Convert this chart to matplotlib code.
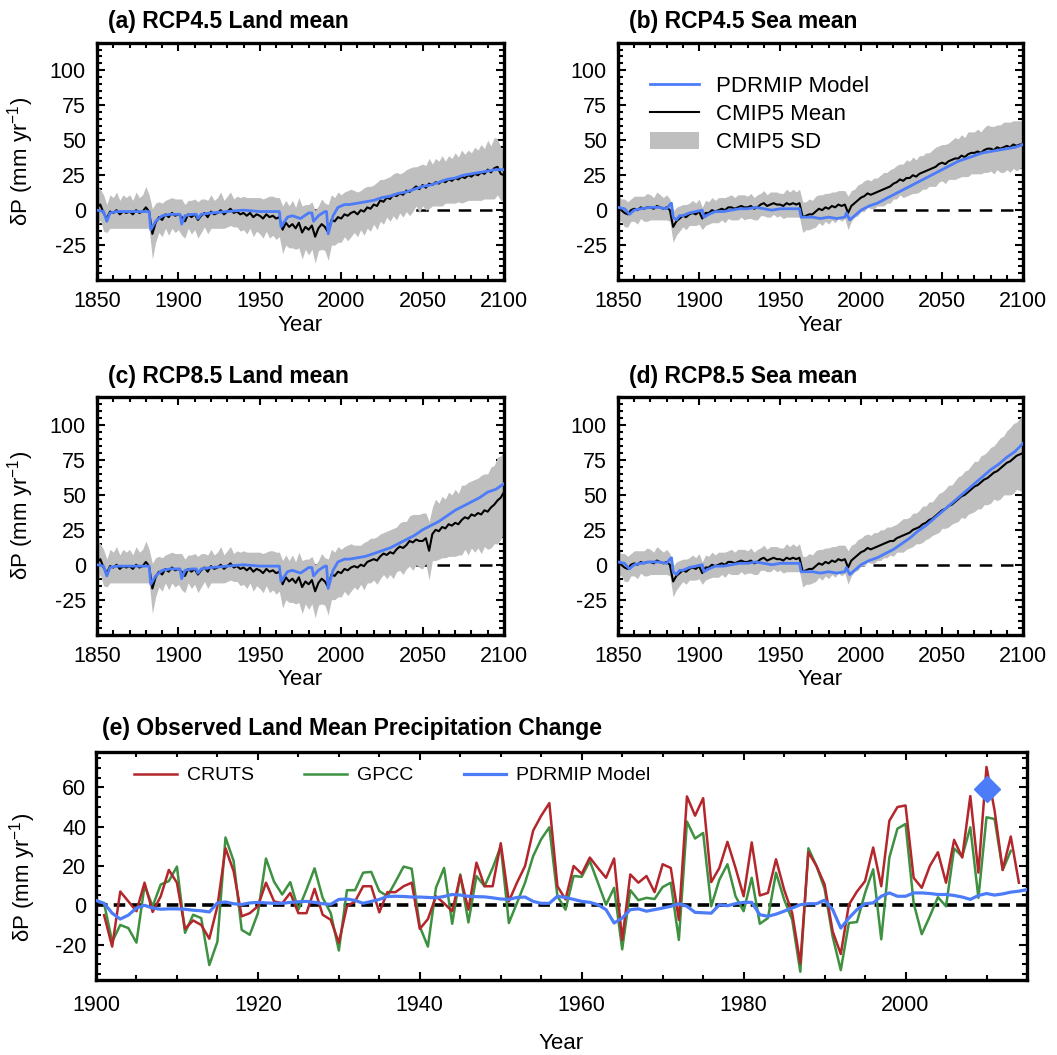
import numpy as np
import matplotlib.pyplot as plt
from matplotlib.ticker import MultipleLocator, FixedLocator

plt.rcParams['font.family'] = ['Liberation Sans', 'DejaVu Sans']
plt.rcParams['axes.unicode_minus'] = False

BAND = '#bfbfbf'
MODEL_BLUE = '#4d7cf9'
CRUTS_RED = '#b3262b'
GPCC_GREEN = '#3d9140'

# CMIP5 multi-model mean and spread, two-year steps
HIST_YEARS = np.arange(1850, 2005, 2)
FUT_YEARS = np.arange(2006, 2101, 2)

LAND_HIST_MEAN = [
    2, 4, -2, -6, -1,
    -2, 0, -3, -1, -2,
    -1, -3, 0, -2, -1,
    2, -1, -17, -9, -5,
    -7, -3, -5, -2, -4,
    -3, -5, -8, -3, -5,
    -3, -7, -4, -2, -5,
    -1, -3, -2, 0, -3,
    -1, 1, -2, -1, -3,
    -2, -4, -2, -5, -3,
    -4, -6, -3, -5, -4,
    -6, -5, -14, -9, -12,
    -10, -13, -9, -16, -12,
    -14, -11, -19, -13, -10,
    -12, -16, -7, -8, -5,
    -6, -3, -4,
]
LAND_HIST_SD = [
    15, 11, 13, 10, 12,
    11, 13, 10, 12, 11,
    12, 10, 13, 11, 12,
    15, 12, 18, 14, 11,
    12, 10, 13, 11, 12,
    11, 13, 12, 10, 12,
    11, 13, 12, 10, 12,
    12, 10, 11, 13, 10,
    11, 12, 10, 11, 12,
    12, 13, 11, 14, 12,
    13, 14, 12, 15, 14,
    15, 14, 17, 16, 15,
    17, 15, 18, 19, 16,
    18, 17, 19, 16, 18,
    17, 20, 18, 17, 18,
    17, 16, 18,
]
SEA_HIST_MEAN = [
    2, 0, -2, -3, 0,
    1, 0, 2, 1, 2,
    2, 1, 3, 2, 1,
    2, 0, -12, -8, -6,
    -4, -5, -3, -2, -3,
    -1, -6, -2, -2, 0,
    -1, 0, 1, 0, 2,
    2, 1, 2, 3, 2,
    2, 3, 1, 2, 4,
    5, 3, 4, 5, 4,
    4, 3, 5, 4, 5,
    4, 5, -5, -4, -3,
    -3, -1, 1, 0, 2,
    1, 3, 2, 4, 3,
    4, -2, 3, 5, 7,
    9, 10, 12,
]
SEA_HIST_SD = [
    9, 8, 10, 9, 8,
    9, 10, 8, 9, 10,
    9, 8, 10, 9, 8,
    9, 8, 11, 10, 9,
    8, 9, 8, 9, 8,
    9, 8, 9, 8, 9,
    8, 9, 8, 9, 8,
    9, 8, 9, 8, 9,
    8, 9, 8, 9, 8,
    9, 8, 9, 8, 9,
    8, 9, 10, 9, 10,
    9, 10, 11, 10, 11,
    10, 11, 10, 11, 10,
    11, 10, 11, 10, 11,
    10, 12, 11, 10, 11,
    10, 11, 10,
]

LAND45_MEAN = [
    -2, -1,
    -3, 0, -1, 2, 1,
    4, 3, 7, 6, 9,
    8, 11, 10, 12, 11,
    14, 13, 15, 17, 15,
    18, 16, 19, 18, 20,
    19, 21, 20, 22, 21,
    23, 22, 24, 23, 25,
    24, 26, 25, 27, 26,
    29, 27, 30, 31, 26,
    25,
]
LAND45_SD = [
    17, 15,
    16, 14, 17, 15, 16,
    14, 17, 15, 16, 14,
    16, 15, 17, 14, 16,
    15, 17, 16, 14, 17,
    15, 16, 18, 15, 17,
    16, 18, 15, 17, 16,
    18, 16, 19, 17, 18,
    17, 19, 18, 20, 18,
    21, 19, 22, 20, 19,
    18,
]
LAND85_MEAN = [
    -2, -1,
    -2, 0, -1, 2, 3,
    4, 3, 6, 8, 7,
    9, 8, 11, 13, 12,
    14, 17, 16, 18, 17,
    17, 19, 10, 22, 25,
    24, 27, 26, 29, 28,
    30, 29, 32, 34, 33,
    36, 35, 37, 36, 39,
    38, 41, 43, 46, 48,
    52,
]
LAND85_SD = [
    17, 15,
    16, 14, 17, 15, 16,
    15, 17, 16, 15, 17,
    16, 18, 16, 17, 19,
    17, 18, 20, 18, 19,
    20, 18, 21, 19, 22,
    20, 22, 21, 23, 22,
    24, 22, 25, 23, 26,
    24, 26, 25, 28, 26,
    27, 29, 28, 31, 30,
    29,
]
SEA45_MEAN = [
    11, 12,
    13, 14, 15, 16, 17,
    19, 20, 22, 21, 23,
    23, 25, 24, 26, 27,
    28, 29, 30, 31, 33,
    34, 33, 35, 36, 37,
    37, 39, 38, 40, 41,
    41, 42, 41, 43, 44,
    44, 43, 45, 44, 45,
    46, 45, 47, 46, 47,
    47,
]
SEA45_SD = [
    10, 11,
    10, 11, 12, 11, 12,
    11, 12, 11, 12, 13,
    12, 13, 12, 13, 12,
    13, 12, 13, 14, 13,
    13, 14, 13, 14, 15,
    14, 15, 14, 16, 15,
    15, 16, 15, 16, 17,
    16, 17, 16, 17, 18,
    17, 18, 17, 18, 17,
    17,
]
SEA85_MEAN = [
    11, 12,
    13, 14, 15, 16, 17,
    17, 19, 20, 21, 22,
    23, 25, 26, 27, 29,
    30, 32, 33, 35, 37,
    39, 40, 42, 43, 45,
    47, 49, 50, 52, 54,
    56, 57, 59, 61, 62,
    64, 66, 67, 69, 71,
    73, 74, 76, 78, 79,
    80,
]
SEA85_SD = [
    10, 11,
    10, 11, 10, 11, 10,
    11, 10, 11, 12, 11,
    11, 12, 11, 12, 13,
    12, 13, 12, 13, 14,
    13, 14, 15, 14, 15,
    16, 15, 17, 16, 17,
    18, 17, 19, 18, 19,
    20, 19, 21, 22, 21,
    23, 24, 25, 24, 26,
    28,
]

# PDRMIP model response (breakpoints around the volcanic years)
LAND_MODEL_HIST_YEARS = [1850, 1854, 1856, 1858, 1862, 1870, 1880, 1882, 1883, 1886,
                         1890, 1895, 1901, 1902, 1904, 1908, 1911, 1912, 1914, 1920,
                         1930, 1940, 1950, 1958, 1962, 1963, 1967, 1970, 1975, 1980,
                         1982, 1983, 1986, 1990, 1991, 1992, 1995, 1998, 2002, 2005]
LAND_MODEL_HIST = [0, -1, -8, -2, -1, -1, -1, -1, -14, -8,
                   -4, -3, -3, -10, -4, -3, -3, -6, -3, -2,
                   -1, 0, -1, -1, -1, -12, -5, -4, -6, -2,
                   -2, -8, -4, -1, -1, -17, -4, 2, 4, 4]
SEA_MODEL_HIST_YEARS = [1850, 1854, 1857, 1860, 1864, 1870, 1875, 1880, 1882, 1883,
                        1884, 1886, 1888, 1890, 1894, 1898, 1902, 1903, 1906, 1910,
                        1915, 1920, 1925, 1930, 1935, 1940, 1945, 1950, 1955, 1962,
                        1963, 1966, 1970, 1975, 1980, 1985, 1990, 1991, 1993, 1997,
                        2000, 2005]
SEA_MODEL_HIST = [2, 1, -3, 0, 1, 2, 2, 1, 4, 5,
                  -5, -7, -4, -4, -2, -1, 0, -5, -3, -1,
                  -1, 0, 1, 1, 2, 1, 0, 1, 1, 1,
                  -5, -5, -5, -6, -5, -6, -5, -2, -7, -3,
                  0, 3]
MODEL_FUT_YEARS = np.arange(2010, 2101, 5)
LAND_MODEL_45 = [5, 6, 7, 9, 10, 12, 13, 15, 17, 18, 20, 22, 23, 25, 26, 27, 28, 29, 29]
LAND_MODEL_85 = [5, 6, 8, 10, 12, 15, 18, 21, 25, 28, 31, 35, 39, 42, 45, 48, 52, 54, 58]
SEA_MODEL_45 = [5, 8, 11, 14, 17, 20, 23, 26, 29, 32, 35, 37, 39, 41, 42, 43, 44, 45, 47]
SEA_MODEL_85 = [5, 8, 11, 15, 19, 24, 28, 33, 38, 43, 48, 53, 58, 63, 68, 72, 77, 81, 87]

# observed land precipitation anomalies
CRUTS = [
    -5, -21, 7, 2, -3, 11.5, -3.4, 4.6, 18, 11.5,          # 1901-1910
    -12, -7.7, -10, -17, -0.5, 29, 17.4, -5.6, -4, -0.5,    # 1911-1920
    11.5, 2, 1, 6.3, -4, -4, 8.4, -4.8, -7.4, -19,          # 1921-1930
    -0.5, 2, 9.7, 9.7, -3.6, 6.7, 6.7, 9.7, 11.5, -12,      # 1931-1940
    -7, 4.6, 1, -3, 15, -2.2, 21.7, 9.7, 9.7, 31.6,         # 1941-1950
    2, 11.5, 20, 38, 45.6, 52, 9.7, 3, 20, 16,              # 1951-1960
    24.3, 19, 14, 23.8, -17.6, 15.7, 11.5, 14.9, 6.7, 20.9, # 1961-1970
    19, -7.4, 55.4, 45.6, 54.5, 11.8, 19, 32.3, 19, 4.6,    # 1971-1980
    32, 5, 6.3, 23.4, 8, -4, -29.6, 27, 20, 10.6,           # 1981-1990
    -13.3, -24.8, 0.3, 7, 12.3, 29.4, 9.7, 43, 50, 50.8,    # 1991-2000
    14, 8.9, 20, 27, 11.5, 33.3, 24.3, 55.6, 16.6, 70.4,    # 2001-2010
    48.2, 18, 35, 11.5,                                     # 2011-2014
]
GPCC = [
    1, -18.5, -10, -11.6, -19, 10, -0.5, 10.6, 12.3, 19.7,  # 1901-1910
    -14, -4.8, -6.5, -30.4, -18.5, 34.5, 22.6, -12.5, -15, -4,
    23.8, 12, 5.5, 11.8, -2.2, 8, 18.8, 3.8, -4, -23,
    7.7, 7.7, 16.6, 17, 7.2, 4.6, 12, 19.7, 18.6, -10.8,
    -21, 9, 19, -9.4, 15.7, -8.7, 14.9, 9.7, 19, 30,
    -9, 1.2, 11.5, 25, 33.7, 39.7, 4.6, -2.2, 14.9, 14.5,
    22.6, 11.5, 0.3, 8.9, -22.4, 7.7, 2.6, 3.8, 3.2, 9.3,
    11.5, -17.6, 42.6, 34, 36.8, -0.5, 13, 20.9, 4.6, -3,
    14, -9.4, -6.5, 16.6, 3, -7.4, -33.8, 29, 20, 8.4,
    -16, -33, -9, -8.5, 6.3, 18.3, -17.3, 24.3, 39, 41.4,
    1.2, -14.7, -5.6, 4.1, -0.5, 28.9, 24.8, 39.7, 3.8, 44.8,
    43.9, 18, 27.7,                                         # 2011-2013
]
PDRMIP_OBS = [
    2.5, 1, -4, -7, -5, -1.4, 0, -1.4, -2, -1.8,            # 1900-1909
    -1.8, -2, -2.5, -2.8, -3.4, 1.2, 1.7, 0.8, 0.4, 1.2,
    1.5, 1.2, 1, 1, 1.5, 1.8, 2, 1.5, 0.8, 0.5,
    3, 3.2, 2.5, 1, 2, 3, 4.5, 4.6, 4.5, 4.2,
    4.2, 4, 3.8, 4.5, 5.5, 5.2, 4.6, 4.4, 4.3, 3.8,
    3.2, 3, 4, 4.2, 2, 1, 1, 4.6, 4, 3,
    2, 1.5, 0.3, -2.2, -9, -6.5, -2.2, -1.8, -3, -2.2,
    -1.4, -0.5, 0.8, -0.5, -3.6, -3.8, -4, 0.3, -0.2, 0.8,
    1.5, 1.5, -4.8, -5.6, -4.5, -3, -1.4, 0.3, 0.8, 0.8,
    2.6, -2.2, -11.6, -6.5, -2.2, 0.8, 1.2, 4.6, 6.3, 4.6,
    4.6, 6.3, 6.3, 6, 5.5, 5.5, 5, 4.2, 3, 5,
    6, 5.2, 5.8, 6.7, 7.2, 8,                               # 2010-2015
]
MODEL_POINT_YEAR = 2010
MODEL_POINT_VALUE = 59

YLABEL = r'δP (mm yr$^{\mathregular{-1}}$)'


def style_frame(ax):
    ax.tick_params(which='both', direction='in', top=True, right=True,
                   width=1.5, labelsize=15.5)
    ax.tick_params(which='major', length=6)
    ax.tick_params(which='minor', length=3.5)
    for spine in ax.spines.values():
        spine.set_linewidth(2.4)


def projection(fig, rect, title, hist_mean, hist_sd, fut_mean, fut_sd,
               model_hist_x, model_hist, model_fut, ylabel=True, legend=False):
    ax = fig.add_axes(rect)
    years = np.concatenate([HIST_YEARS, FUT_YEARS])
    mean = np.array(hist_mean + fut_mean, dtype=float)
    sd = np.array(hist_sd + fut_sd, dtype=float)
    mx = np.concatenate([model_hist_x, MODEL_FUT_YEARS])
    my = np.array(model_hist + model_fut, dtype=float)

    ax.axhline(0, color='black', lw=1.8, dashes=(5, 3.5), zorder=1)
    sd_band = ax.fill_between(years, mean - sd, mean + sd, color=BAND, lw=0, zorder=2)
    mean_line, = ax.plot(years, mean, color='black', lw=1.5, zorder=3)
    model_line, = ax.plot(mx, my, color=MODEL_BLUE, lw=2.0, zorder=4)

    ax.set_xlim(1850, 2100)
    ax.set_ylim(-50, 120)
    ax.xaxis.set_major_locator(MultipleLocator(50))
    ax.xaxis.set_minor_locator(MultipleLocator(10))
    ax.yaxis.set_major_locator(FixedLocator([-25, 0, 25, 50, 75, 100]))
    ax.yaxis.set_minor_locator(MultipleLocator(5))
    style_frame(ax)
    ax.tick_params(axis='both', pad=8)

    ax.set_xlabel('Year', fontsize=16, labelpad=2)
    if ylabel:
        ax.set_ylabel(YLABEL, fontsize=16)
        ax.yaxis.set_label_coords(-0.15, 0.5)
    ax.text(0.027, 1.06, title, transform=ax.transAxes, fontsize=16.5,
            fontweight='bold', ha='left', va='baseline')

    if legend:
        ax.legend([model_line, mean_line, sd_band],
                  ['PDRMIP Model', 'CMIP5 Mean', 'CMIP5 SD'],
                  loc='upper left', bbox_to_anchor=(0.079, 0.86), frameon=False,
                  fontsize=16, handlelength=2.2, handleheight=0.8,
                  handletextpad=0.75, labelspacing=0.3, borderpad=0, borderaxespad=0)
    return ax


fig = plt.figure(figsize=(10.57, 10.55), dpi=100)

projection(fig, [0.0918, 0.7346, 0.3850, 0.2251], '(a) RCP4.5 Land mean',
           LAND_HIST_MEAN, LAND_HIST_SD, LAND45_MEAN, LAND45_SD,
           LAND_MODEL_HIST_YEARS, LAND_MODEL_HIST, LAND_MODEL_45)
projection(fig, [0.5847, 0.7346, 0.3832, 0.2251], '(b) RCP4.5 Sea mean',
           SEA_HIST_MEAN, SEA_HIST_SD, SEA45_MEAN, SEA45_SD,
           SEA_MODEL_HIST_YEARS, SEA_MODEL_HIST, SEA_MODEL_45,
           ylabel=False, legend=True)
projection(fig, [0.0918, 0.3985, 0.3850, 0.2251], '(c) RCP8.5 Land mean',
           LAND_HIST_MEAN, LAND_HIST_SD, LAND85_MEAN, LAND85_SD,
           LAND_MODEL_HIST_YEARS, LAND_MODEL_HIST, LAND_MODEL_85)
projection(fig, [0.5847, 0.3985, 0.3832, 0.2251], '(d) RCP8.5 Sea mean',
           SEA_HIST_MEAN, SEA_HIST_SD, SEA85_MEAN, SEA85_SD,
           SEA_MODEL_HIST_YEARS, SEA_MODEL_HIST, SEA_MODEL_85, ylabel=False)

# observed land mean precipitation change
ax = fig.add_axes([0.0908, 0.0711, 0.8808, 0.2161])
ax.axhline(0, color='black', lw=2.6, dashes=(3.2, 1.7), zorder=1)
ax.plot(np.arange(1901, 1901 + len(GPCC)), GPCC, color=GPCC_GREEN, lw=1.8,
        zorder=2, label='GPCC')
ax.plot(np.arange(1901, 1901 + len(CRUTS)), CRUTS, color=CRUTS_RED, lw=1.8,
        zorder=3, label='CRUTS')
ax.plot(np.arange(1900, 1900 + len(PDRMIP_OBS)), PDRMIP_OBS, color=MODEL_BLUE,
        lw=2.3, zorder=4, label='PDRMIP Model')
ax.plot(MODEL_POINT_YEAR, MODEL_POINT_VALUE, marker='D', ms=13,
        color=MODEL_BLUE, zorder=5)
ax.set_xlim(1900, 2015)
ax.set_ylim(-38, 78)
ax.xaxis.set_major_locator(MultipleLocator(20))
ax.xaxis.set_minor_locator(MultipleLocator(5))
ax.yaxis.set_major_locator(FixedLocator([-20, 0, 20, 40, 60]))
ax.yaxis.set_minor_locator(MultipleLocator(5))
style_frame(ax)
ax.tick_params(axis='x', pad=11)
ax.tick_params(axis='y', pad=7)
ax.set_xlabel('Year', fontsize=16, labelpad=12)
ax.set_ylabel(YLABEL, fontsize=16)
ax.yaxis.set_label_coords(-0.062, 0.45)
ax.text(0.0065, 1.075, '(e) Observed Land Mean Precipitation Change',
        transform=ax.transAxes, fontsize=16.5, fontweight='bold',
        ha='left', va='baseline')
handles, labels = ax.get_legend_handles_labels()
order = [labels.index('CRUTS'), labels.index('GPCC'), labels.index('PDRMIP Model')]
ax.legend([handles[i] for i in order], [labels[i] for i in order],
          loc='upper left', bbox_to_anchor=(0.041, 0.935), ncol=3, frameon=False,
          fontsize=14, handlelength=2.2, handletextpad=0.5, columnspacing=2.6,
          borderpad=0, borderaxespad=0)

fig.savefig('out.png', dpi=100)
